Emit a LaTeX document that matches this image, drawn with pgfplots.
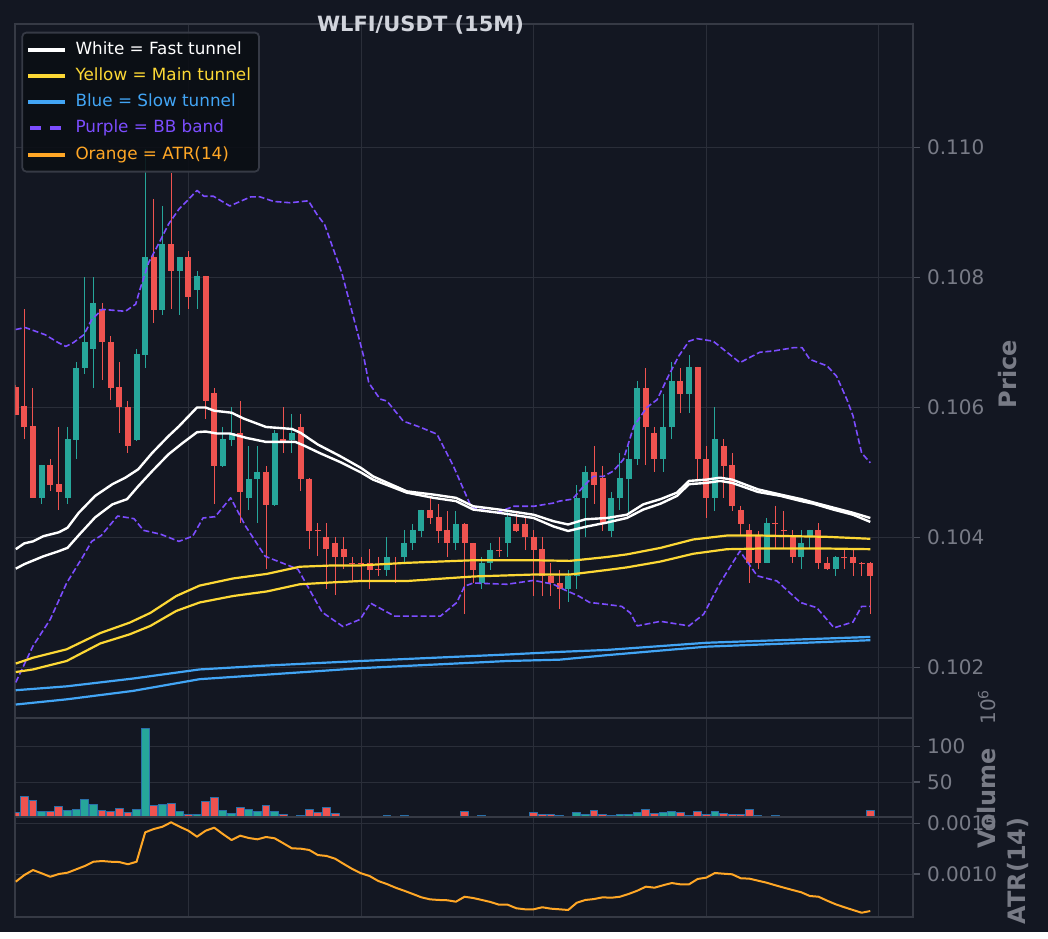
\documentclass[border=0pt]{standalone}
\usepackage{pgfplots}
\pgfplotsset{compat=1.18}
\usepackage{pgfplotstable}
\usepackage{fontspec}
\setmainfont{DejaVu Sans}
\definecolor{bg}{HTML}{131722}
\definecolor{gridc}{HTML}{2A2E39}
\definecolor{spinec}{HTML}{363A45}
\definecolor{tickmc}{HTML}{4A4E5A}
\definecolor{tickc}{HTML}{787B86}
\definecolor{titlec}{HTML}{D1D4DC}
\definecolor{upc}{HTML}{26A69A}
\definecolor{dnc}{HTML}{EF5350}
\definecolor{yel}{HTML}{FDD835}
\definecolor{blu}{HTML}{42A5F5}
\definecolor{pur}{HTML}{7C4DFF}
\definecolor{ora}{HTML}{FFA726}
\definecolor{legbg}{HTML}{0B0E14}
\definecolor{voledge}{HTML}{2A6FA8}

\pgfplotstableread{
i o h l c v
3 0.10461 0.10512 0.10451 0.10511 8.5
6 0.10461 0.10570 0.10451 0.10551 10.3
7 0.10550 0.10670 0.10521 0.10661 11.3
8 0.10660 0.10800 0.10651 0.10701 25.5
9 0.10690 0.10800 0.10630 0.10761 18.4
14 0.10550 0.10690 0.10549 0.10682 11.3
15 0.10680 0.10997 0.10661 0.10831 126
17 0.10750 0.10910 0.10742 0.10851 18.4
19 0.10810 0.10832 0.10742 0.10831 8.5
21 0.10780 0.10810 0.10751 0.10802 3.7
24 0.10510 0.10570 0.10509 0.10551 9.9
25 0.10550 0.10601 0.10540 0.10561 5.7
27 0.10461 0.10540 0.10442 0.10490 11.3
28 0.10490 0.10540 0.10422 0.10501 8.5
30 0.10450 0.10566 0.10449 0.10561 8.5
32 0.10550 0.10590 0.10530 0.10561 1.4
43 0.10350 0.10400 0.10340 0.10370 2.5
45 0.10370 0.10411 0.10360 0.10391 2.5
46 0.10391 0.10421 0.10380 0.10411 1.0
47 0.10410 0.10443 0.10400 0.10442 0.8
51 0.10391 0.10440 0.10380 0.10421 0.8
54 0.10330 0.10370 0.10321 0.10360 2.5
55 0.10360 0.10391 0.10350 0.10380 1.0
57 0.10391 0.10440 0.10370 0.10431 1.8
64 0.10320 0.10350 0.10300 0.10340 1.0
65 0.10340 0.10480 0.10321 0.10461 6.5
66 0.10461 0.10510 0.10401 0.10501 3.7
69 0.10410 0.10470 0.10401 0.10461 2.3
70 0.10461 0.10530 0.10442 0.10491 3.7
71 0.10490 0.10540 0.10438 0.10521 3.7
72 0.10521 0.10640 0.10511 0.10630 6.5
75 0.10521 0.10620 0.10501 0.10570 6.5
76 0.10570 0.10670 0.10551 0.10641 8.5
78 0.10621 0.10680 0.10591 0.10662 2.3
81 0.10461 0.10600 0.10440 0.10551 8.5
87 0.10361 0.10430 0.10360 0.10422 1.4
91 0.10370 0.10411 0.10351 0.10391 0.6
92 0.10402 0.10412 0.10382 0.10411 1.0
95 0.10351 0.10371 0.10340 0.10370 0.5
}\upT

\pgfplotstableread{
i o h l c v
0 0.10631 0.10635 0.10588 0.10589 6.5
1 0.10602 0.10751 0.10551 0.10570 29.2
2 0.10571 0.10630 0.10460 0.10461 24.5
4 0.10511 0.10521 0.10471 0.10480 8.5
5 0.10482 0.10570 0.10442 0.10470 15
10 0.10751 0.10761 0.10642 0.10700 9.9
11 0.10701 0.10710 0.10611 0.10630 7.9
12 0.10631 0.10670 0.10561 0.10600 12.7
13 0.10601 0.10610 0.10530 0.10540 6.5
16 0.10831 0.10921 0.10730 0.10750 17.4
18 0.10851 0.10961 0.10751 0.10810 19.8
20 0.10831 0.10840 0.10751 0.10770 3.3
22 0.10802 0.10803 0.10582 0.10610 22.7
23 0.10622 0.10630 0.10451 0.10510 28.3
26 0.10561 0.10610 0.10422 0.10470 14.2
29 0.10501 0.10510 0.10351 0.10450 17
31 0.10551 0.10601 0.10530 0.10549 3.7
33 0.10570 0.10590 0.10471 0.10490 2.3
34 0.10490 0.10491 0.10382 0.10410 11.3
35 0.10411 0.10422 0.10371 0.10410 6.5
36 0.10401 0.10422 0.10321 0.10382 14.2
37 0.10391 0.10401 0.10311 0.10370 5.1
38 0.10382 0.10401 0.10352 0.10370 1.5
39 0.10361 0.10370 0.10331 0.10360 1.0
40 0.10361 0.10370 0.10331 0.10360 1.0
41 0.10361 0.10382 0.10321 0.10350 1.2
42 0.10351 0.10370 0.10340 0.10350 0.8
44 0.10361 0.10370 0.10330 0.10360 0.8
48 0.10442 0.10461 0.10421 0.10430 1.0
49 0.10431 0.10451 0.10391 0.10410 0.8
50 0.10411 0.10440 0.10370 0.10391 1.0
52 0.10421 0.10422 0.10282 0.10391 8.5
53 0.10391 0.10392 0.10330 0.10350 1.0
56 0.10381 0.10400 0.10370 0.10380 0.8
58 0.10421 0.10440 0.10409 0.10410 0.8
59 0.10421 0.10431 0.10380 0.10400 1.0
60 0.10401 0.10411 0.10310 0.10380 6.5
61 0.10382 0.10401 0.10310 0.10340 4.7
62 0.10340 0.10361 0.10310 0.10330 3.7
63 0.10330 0.10350 0.10290 0.10320 2.3
67 0.10501 0.10540 0.10451 0.10480 9.9
68 0.10491 0.10510 0.10410 0.10423 3.7
73 0.10630 0.10661 0.10511 0.10570 11.3
74 0.10561 0.10570 0.10501 0.10521 5.1
77 0.10641 0.10661 0.10591 0.10621 6.5
79 0.10662 0.10663 0.10489 0.10521 8.5
80 0.10521 0.10540 0.10430 0.10461 4.7
82 0.10541 0.10551 0.10461 0.10510 5.1
83 0.10511 0.10530 0.10440 0.10449 3.7
84 0.10442 0.10449 0.10402 0.10420 3.7
85 0.10411 0.10420 0.10330 0.10361 11.3
86 0.10402 0.10410 0.10351 0.10361 2.3
88 0.10422 0.10449 0.10382 0.10421 2.3
89 0.10411 0.10440 0.10382 0.10410 1.2
90 0.10402 0.10411 0.10361 0.10370 1.2
93 0.10411 0.10422 0.10351 0.10361 1.0
94 0.10361 0.10370 0.10350 0.10351 0.6
96 0.10370 0.10382 0.10351 0.10369 0.5
97 0.10370 0.10382 0.10340 0.10361 1.4
98 0.10361 0.10362 0.10340 0.10360 0.5
99 0.10361 0.10362 0.10282 0.10340 9.9
}\dnT

\pgfplotstableread{
i a
0 0.000924
1 0.000990
2 0.001039
3 0.001007
4 0.000973
5 0.001000
6 0.001013
7 0.001046
8 0.001079
9 0.001121
10 0.001128
11 0.001121
12 0.001118
13 0.001096
14 0.001121
15 0.001411
16 0.001444
17 0.001466
18 0.001510
19 0.001466
20 0.001427
21 0.001368
22 0.001427
23 0.001457
24 0.001394
25 0.001335
26 0.001378
27 0.001355
28 0.001342
29 0.001365
30 0.001352
31 0.001303
32 0.001253
33 0.001250
34 0.001237
35 0.001187
36 0.001178
37 0.001151
38 0.001099
39 0.001049
40 0.001007
41 0.000980
42 0.000931
43 0.000901
44 0.000865
45 0.000835
46 0.000803
47 0.000770
48 0.000750
49 0.000744
50 0.000741
51 0.000727
52 0.000776
53 0.000763
54 0.000744
55 0.000724
56 0.000697
57 0.000697
58 0.000662
59 0.000652
60 0.000652
61 0.000672
62 0.000658
63 0.000652
64 0.000645
65 0.000717
66 0.000744
67 0.000753
68 0.000770
69 0.000766
70 0.000776
71 0.000803
72 0.000835
73 0.000875
74 0.000865
75 0.000889
76 0.000911
77 0.000898
78 0.000898
79 0.000951
80 0.000964
81 0.001010
82 0.001003
83 0.000997
84 0.000958
85 0.000954
86 0.000934
87 0.000914
88 0.000889
89 0.000865
90 0.000842
91 0.000820
92 0.000783
93 0.000776
94 0.000737
95 0.000701
96 0.000672
97 0.000645
98 0.000618
99 0.000635
}\atrT

\pgfplotsset{
  panel/.style={
    scale only axis, width=448.85pt, anchor=north west,
    xmin=-0.05, xmax=103.95,
    axis background/.style={fill=bg},
    axis line style={spinec, line width=1pt},
    grid=major, major grid style={gridc, line width=0.5pt},
    xtick={0,20,40,60,80,100}, xticklabels={},
    x tick style={draw=none},
    ytick pos=right, yticklabel pos=right,
    tick align=outside, major tick length=3.5pt,
    y tick style={tickmc, line width=0.6pt},
    tick label style={font=\fontsize{10}{12}\selectfont, text=tickc},
    yticklabel style={anchor=west},
    /pgf/number format/assume math mode=true,
    scaled y ticks=false,
    every axis plot/.append style={line join=round},
  },
  candles/.style={draw=none, mark=none, forget plot,
    error bars/.cd, y dir=minus, y explicit, error mark=none},
}

\begin{document}
\begin{tikzpicture}
\fill[bg] (0pt,0pt) rectangle (524pt,-466pt);

% ---------------- price panel ----------------
\begin{axis}[panel, at={(7.65pt,-12pt)}, height=347.15pt,
  ymin=0.101218, ymax=0.1119,
  ytick={0.102,0.104,0.106,0.108,0.110},
  yticklabels={0.102,0.104,0.106,0.108,0.110},
  legend style={at={(0.0068,0.9889)}, anchor=north west,
    fill=legbg, fill opacity=0.88, text opacity=1, draw=spinec, line width=0.9pt,
    rounded corners=2pt, font=\fontsize{8.4}{10}\selectfont,
    inner xsep=2pt, inner ysep=2.5pt, row sep=1.0pt,
    nodes={inner sep=2pt, text height=6.3pt, text depth=1.8pt},
    /tikz/every odd column/.append style={column sep=2.2pt}},
  legend cell align=left,
  legend image code/.code={\draw[#1] (0pt,0pt) -- (18.4pt,0pt);},
]
% wicks
\addplot[candles, error bar style={draw=dnc, line width=0.5pt}]
  table[x=i, y=h, y error expr={\thisrow{h}-\thisrow{l}}] {\dnT};
\addplot[candles, error bar style={draw=upc, line width=0.5pt}]
  table[x=i, y=h, y error expr={\thisrow{h}-\thisrow{l}}] {\upT};
% bodies
\addplot[candles, error bar style={draw=dnc, line width=3pt}]
  table[x=i, y=o, y error expr={\thisrow{o}-\thisrow{c}}] {\dnT};
\addplot[candles, error bar style={draw=upc, line width=3pt}]
  table[x=i, y=c, y error expr={\thisrow{c}-\thisrow{o}}] {\upT};

% BB bands
\addplot[pur, line width=0.8pt, dash pattern=on 3pt off 1.4pt, forget plot] coordinates {
(0,0.10720) (1.1,0.10723) (3.4,0.10712) (4.9,0.10700) (5.8,0.10694) (6.7,0.10700)
(7.9,0.10712) (8.8,0.10735) (10,0.10751) (12.7,0.10748) (13.9,0.10759) (14.4,0.10782)
(15.4,0.10823) (16.6,0.10853) (17.7,0.10882) (18.9,0.10905) (20,0.10920) (21,0.10934)
(21.8,0.10925) (22.9,0.10925) (24.8,0.10910) (26,0.10917) (27.2,0.10924) (28.3,0.10924)
(29.9,0.10917) (31.8,0.10915) (33.9,0.10918) (34.9,0.10897) (35.8,0.10881) (37.8,0.10806)
(39.5,0.10720) (40.3,0.10679) (40.9,0.10638) (42.2,0.10613) (43,0.10610) (44.9,0.10579)
(46.8,0.10570) (48.8,0.10559) (50.7,0.10510) (52.8,0.10446) (54.6,0.10441) (55.7,0.10438)
(57.7,0.10448) (60,0.10448) (62.3,0.10453) (63,0.10456) (64.5,0.10459) (65.8,0.10479)
(66.9,0.10494) (68.1,0.10494) (69.2,0.10502) (70.4,0.10520) (71.6,0.10571) (73.1,0.10600)
(74.3,0.10612) (75.6,0.10648) (76.8,0.10679) (78,0.10702) (78.9,0.10706) (80.8,0.10702)
(83.9,0.10669) (86.2,0.10685) (87.8,0.10687) (90.1,0.10692) (91.1,0.10692) (92,0.10674)
(94,0.10664) (95.1,0.10648) (96.3,0.10612) (97,0.10587) (98,0.10530) (99,0.10515)};
\addplot[pur, line width=0.8pt, dash pattern=on 3pt off 1.4pt, forget plot] coordinates {
(0,0.10177) (2,0.10233) (4,0.10274) (5.9,0.10330) (7.8,0.10371) (8.8,0.10394)
(9.9,0.10403) (11.8,0.10433) (13.7,0.10429) (14.8,0.10411) (16.8,0.10405) (18.9,0.10394)
(20.5,0.10402) (21.7,0.10430) (23.1,0.10432) (24.9,0.10461) (26.6,0.10418) (28.9,0.10371)
(31.6,0.10357) (32.7,0.10351) (33.9,0.10323) (35.5,0.10285) (37.9,0.10263) (39.9,0.10274)
(41.1,0.10299) (43.9,0.10279) (46,0.10279) (49.2,0.10279) (51.1,0.10300) (52,0.10325)
(53,0.10330) (56.9,0.10328) (60,0.10334) (62.3,0.10328) (63.5,0.10320) (65.2,0.10310)
(66.5,0.10300) (68.5,0.10297) (70.2,0.10294) (71.2,0.10284) (72,0.10264) (74.7,0.10271)
(78,0.10264) (79.7,0.10282) (81.6,0.10330) (83.9,0.10379) (85.9,0.10341) (88.2,0.10333)
(90.9,0.10300) (92.8,0.10292) (94.8,0.10261) (97,0.10270) (98,0.10294) (99,0.10294)};

% slow tunnel (blue)
\addplot[blu, line width=1.1pt, forget plot] coordinates {
(0,0.10165) (5.9,0.10171) (13.6,0.10183) (21.3,0.10197) (29.1,0.10203) (36.8,0.10208)
(40,0.10210) (57,0.10220) (63,0.10224) (68.5,0.10227) (80,0.10238) (99,0.10247)};
\addplot[blu, line width=1.1pt, forget plot] coordinates {
(0,0.10143) (5.9,0.10151) (13.6,0.10164) (21.3,0.10182) (29.1,0.10189) (36.8,0.10196)
(40,0.10199) (57,0.10210) (63,0.10212) (68.5,0.10219) (80,0.10232) (99,0.10242)};

% main tunnel (yellow)
\addplot[yel, line width=1.1pt, forget plot] coordinates {
(0,0.10206) (2,0.10215) (5.9,0.10228) (9.8,0.10253) (13.2,0.10269) (15.6,0.10284)
(18.6,0.10310) (21.3,0.10326) (25.2,0.10337) (29.1,0.10344) (32.9,0.10355) (36.8,0.10357)
(39.9,0.10357) (45.3,0.10361) (53,0.10365) (60,0.10365) (64.2,0.10364) (68.5,0.10370)
(70.8,0.10374) (74.7,0.10384) (78.5,0.10397) (82.4,0.10403) (86.2,0.10403) (94,0.10401)
(99,0.10398)};
\addplot[yel, line width=1.1pt, forget plot] coordinates {
(0,0.10193) (2,0.10197) (5.9,0.10210) (9.8,0.10237) (13.2,0.10251) (15.6,0.10264)
(18.6,0.10287) (21.3,0.10300) (25.2,0.10310) (29.1,0.10317) (32.9,0.10328) (36.8,0.10331)
(39.9,0.10333) (45.3,0.10333) (53,0.10340) (60,0.10343) (64.2,0.10343) (68.5,0.10350)
(70.8,0.10354) (74.7,0.10363) (78.5,0.10375) (82.4,0.10382) (86.2,0.10383) (94,0.10383)
(99,0.10382)};

% fast tunnel (white)
\addplot[white, line width=1.2pt, forget plot] coordinates {
(0,0.10382) (1,0.10391) (2,0.10394) (3.2,0.10402) (5,0.10408) (6,0.10415) (7.3,0.10438)
(9.2,0.10464) (11.2,0.10482) (12.7,0.10492) (14.2,0.10505) (15.8,0.10530) (17.7,0.10556)
(18.9,0.10571) (21,0.10600) (22,0.10600) (23,0.10595) (25,0.10592) (26.4,0.10583)
(29,0.10570) (32,0.10567) (33,0.10561) (35,0.10543) (37.6,0.10525) (40,0.10507)
(41.4,0.10494) (45.3,0.10471) (48.4,0.10466) (51,0.10461) (53,0.10448) (56,0.10443)
(60,0.10435) (62.3,0.10425) (64,0.10420) (66,0.10428) (68.5,0.10430) (70.8,0.10435)
(72.7,0.10451) (74.7,0.10459) (76.6,0.10469) (78,0.10487) (80,0.10489) (81.6,0.10492)
(83,0.10489) (86,0.10474) (88.6,0.10466) (91,0.10459) (92.4,0.10454) (94.7,0.10446)
(97,0.10438) (99,0.10430)};
\addplot[white, line width=1.2pt, forget plot] coordinates {
(0,0.10352) (1,0.10359) (3.2,0.10371) (5,0.10379) (6,0.10384) (7.4,0.10405) (9.2,0.10431)
(11.2,0.10451) (12.9,0.10459) (14.2,0.10479) (15.8,0.10502) (17.7,0.10528) (19.3,0.10545)
(21,0.10562) (22,0.10563) (23.3,0.10560) (24.8,0.10560) (26.8,0.10553) (29,0.10547)
(32.4,0.10547) (33.3,0.10542) (35.2,0.10530) (37.6,0.10516) (40,0.10500) (41.4,0.10489)
(45.3,0.10469) (48.4,0.10461) (51,0.10456) (53,0.10443) (56,0.10438) (60,0.10430)
(62.3,0.10417) (64,0.10410) (66.2,0.10417) (68.5,0.10423) (70.8,0.10430) (72.7,0.10443)
(74.7,0.10452) (76.6,0.10464) (78,0.10482) (80,0.10484) (81.6,0.10487) (83,0.10484)
(86,0.10470) (88.6,0.10464) (91,0.10456) (92.4,0.10452) (94.7,0.10443) (97,0.10435)
(99,0.10424)};

\addlegendimage{white, line width=2pt}
\addlegendentry{\textcolor{white}{White = Fast tunnel}}
\addlegendimage{yel, line width=2pt}
\addlegendentry{\textcolor{yel}{Yellow = Main tunnel}}
\addlegendimage{blu, line width=2pt}
\addlegendentry{\textcolor{blu}{Blue = Slow tunnel}}
\addlegendimage{pur, line width=2pt, dash pattern=on 5.5pt off 4.5pt, dash phase=-1pt}
\addlegendentry{\textcolor{pur}{Purple = BB band}}
\addlegendimage{ora, line width=2pt}
\addlegendentry{\textcolor{ora}{Orange = ATR(14)}}
\end{axis}

% ---------------- volume panel ----------------
\begin{axis}[panel, at={(7.65pt,-359.15pt)}, height=49.5pt,
  ymin=0, ymax=140.2, ytick={50,100}, yticklabels={50,100}]
\addplot[ybar, bar width=3.9pt, bar shift=0pt, fill=upc, draw=voledge, line width=0.5pt]
  table[x=i, y=v] {\upT};
\addplot[ybar, bar width=3.9pt, bar shift=0pt, fill=dnc, draw=voledge, line width=0.5pt]
  table[x=i, y=v] {\dnT};
\end{axis}

% ---------------- ATR panel ----------------
\begin{axis}[panel, at={(7.65pt,-408.65pt)}, height=50pt,
  ymin=0.000573, ymax=0.001559, ytick={0.0010,0.0015}, yticklabels={0.0010,0.0015}]
\addplot[ora, line width=1pt] table[x=i, y=a] {\atrT};
\end{axis}

% titles and labels
\node[anchor=base, text=titlec, font=\fontsize{10.5}{12}\bfseries\selectfont]
  at (210.25pt,-15.9pt) {WLFI/USDT (15M)};
\node[rotate=90, text=tickc, font=\fontsize{12}{14}\bfseries\selectfont]
  at (504pt,-187pt) {Price};
\node[rotate=90, text=tickc, font=\fontsize{12}{14}\bfseries\selectfont]
  at (493.5pt,-399pt) {Volume};
\node[rotate=90, text=tickc, font=\fontsize{10}{12}\selectfont]
  at (493.5pt,-353.5pt) {10\textsuperscript{6}};
\node[rotate=90, text=tickc, font=\fontsize{12}{14}\bfseries\selectfont]
  at (509pt,-435.5pt) {ATR(14)};
\end{tikzpicture}
\end{document}
